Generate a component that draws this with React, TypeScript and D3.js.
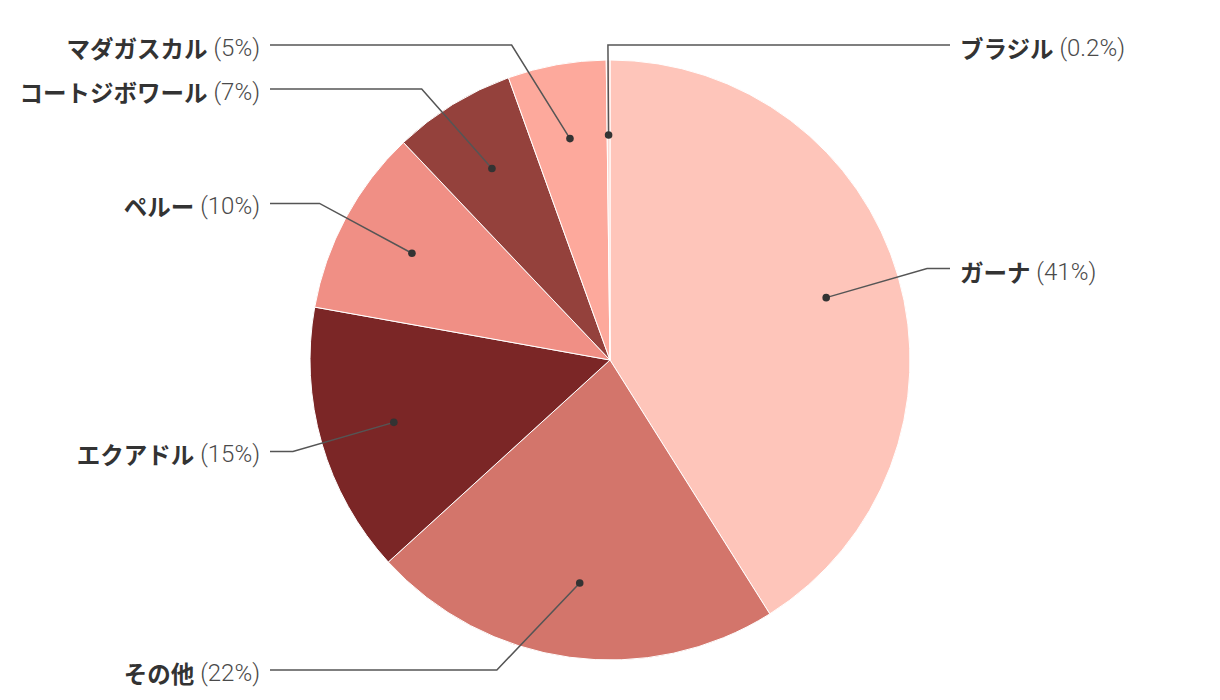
import React from 'react';
import * as d3 from 'd3';

const countries = ['ガーナ', 'その他', 'エクアドル', 'ペルー', 'コートジボワール', 'マダガスカル', 'ブラジル'];
const shares = [41.1, 22.2, 14.6, 10.1, 6.6, 5.3, 0.2];
const sliceColors = ['#fec5ba', '#d3756b', '#7b2626', '#f08f85', '#94413c', '#fda99c', '#fbd9d2'];

const width = 1220;
const height = 700;

const fmtShare = (v: number) => (v < 1 ? v.toFixed(1) : String(Math.round(v))) + '%';

export const CocoaPie: React.FC = () => {
    const svgRef = React.useRef(null);

    const renderPie = React.useCallback(() => {
        const svg = d3.select(svgRef.current);
        svg.selectAll('*').remove();
        svg.attr('width', width).attr('height', height);

        const cx = 610;
        const cy = 360;
        const radius = 300;
        const elbowR = radius * 1.1;
        const dotR = radius * 0.75;
        const topY = 45;
        const bottomY = 670;
        const gap = 44;

        const rows = countries.map((name, i) => ({ name, value: shares[i], color: sliceColors[i] }));
        const pie = d3.pie<any>().sort(null).value((d: any) => d.value);
        const arcs = pie(rows);
        const arc = d3.arc<any>().innerRadius(0).outerRadius(radius);

        const g = svg.append('g').attr('transform', `translate(${cx},${cy})`);
        g.selectAll('path')
          .data(arcs)
          .join('path')
          .attr('d', arc as any)
          .attr('fill', (d: any) => d.data.color)
          .attr('stroke', '#fff')
          .attr('stroke-width', 1);

        // label layout
        const labels = arcs.map((a: any) => {
            const mid = (a.startAngle + a.endAngle) / 2;
            const s = Math.sin(mid);
            const c = Math.cos(mid);
            const naturalRight = s >= 0;
            const right = s > -0.05;
            return {
                name: a.data.name,
                value: a.data.value,
                dot: [s * dotR, -c * dotR],
                ex: s * elbowR,
                ey: -c * elbowR,
                naturalRight,
                right,
            };
        });

        [true, false].forEach(side => {
            const grp = labels.filter(l => l.right === side).sort((a, b) => a.ey - b.ey);
            let prev = -Infinity;
            grp.forEach(l => {
                let y = Math.max(l.ey, topY - cy, prev + gap);
                l.ey = y;
                prev = y;
            });
            for (let i = grp.length - 1; i >= 0; i--) {
                const maxY = i === grp.length - 1 ? bottomY - cy : grp[i + 1].ey - gap;
                if (grp[i].ey > maxY) grp[i].ey = maxY;
            }
            grp.forEach(l => {
                if (l.naturalRight === l.right) {
                    const dx = Math.sqrt(Math.max(0, elbowR * elbowR - l.ey * l.ey));
                    l.ex = l.right ? dx : -dx;
                }
            });
        });

        const lineEndLeft = 270 - cx;
        const lineEndRight = 950 - cx;

        const lab = g.selectAll('g.label')
          .data(labels)
          .join('g')
          .attr('class', 'label');

        lab.append('polyline')
          .attr('points', (l: any) => {
              const endX = l.right ? lineEndRight : lineEndLeft;
              return `${l.dot[0]},${l.dot[1]} ${l.ex},${l.ey} ${endX},${l.ey}`;
          })
          .attr('fill', 'none')
          .attr('stroke', '#555')
          .attr('stroke-width', 1.5);

        lab.append('circle')
          .attr('cx', (l: any) => l.dot[0])
          .attr('cy', (l: any) => l.dot[1])
          .attr('r', 3.8)
          .attr('fill', '#333');

        const txt = lab.append('text')
          .attr('x', (l: any) => (l.right ? lineEndRight + 10 : lineEndLeft - 10))
          .attr('y', (l: any) => l.ey + 3)
          .attr('dominant-baseline', 'central')
          .attr('text-anchor', (l: any) => (l.right ? 'start' : 'end'))
          .style('font-size', '23.5px');
        txt.append('tspan')
          .text((l: any) => l.name)
          .style('font-family', '"Noto Sans CJK JP", sans-serif')
          .style('font-weight', 700)
          .attr('fill', '#333');
        txt.append('tspan')
          .text((l: any) => ` (${fmtShare(l.value)})`)
          .style('font-family', 'Roboto, sans-serif')
          .style('font-weight', 300)
          .style('font-size', '24px')
          .attr('fill', '#4a4a4a');
    }, []);

    React.useEffect(() => {
        renderPie();
    }, [renderPie]);

    return (
        <svg ref={svgRef} style={{ position: 'absolute', left: 0, top: 0, background: '#fff' }} />
    );
};

export default function App() {
    return <CocoaPie />;
}
